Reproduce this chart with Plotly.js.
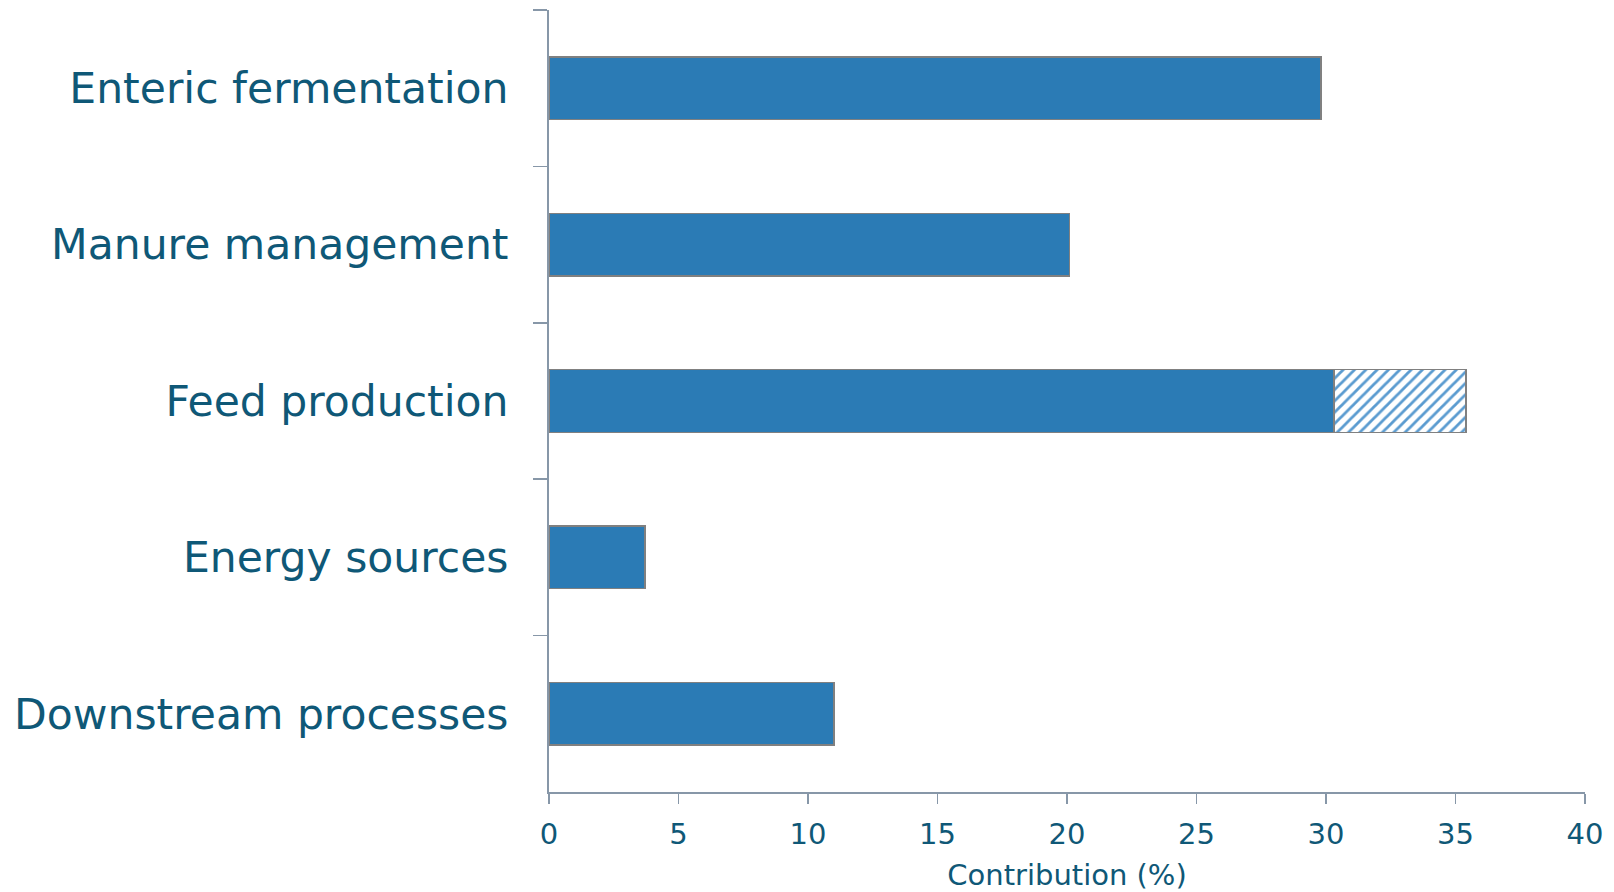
<!DOCTYPE html>
<html>
<head>
<meta charset="utf-8">
<script src="https://cdn.plot.ly/plotly-3.0.1.min.js"></script>
<style>html,body{margin:0;padding:0;background:#fff;}#chart{width:1614px;height:892px;}</style>
</head>
<body>
<div id="chart"></div>
<script>
const categories = ["Enteric fermentation", "Manure management", "Feed production", "Energy sources", "Downstream processes"];
const mainValues = [29.8, 20.1, 30.3, 3.7, 11.0];
const hatchedValues = [null, null, 5.1, null, null];
const xTickValues = [0, 5, 10, 15, 20, 25, 30, 35, 40];

const textColor = "#0f5877";
const axisColor = "#8797a8";
const barColor = "#2b7bb5";

const traces = [
  {
    type: "bar", orientation: "h",
    y: categories, x: mainValues,
    width: 0.4,
    marker: {color: barColor, line: {color: "#808080", width: 1.5}},
    hoverinfo: "x+y"
  },
  {
    type: "bar", orientation: "h",
    y: categories, x: hatchedValues,
    width: 0.4,
    marker: {
      color: "#ffffff",
      line: {color: "#808080", width: 1.5},
      pattern: {shape: "/", fgcolor: "#5a9bd0", bgcolor: "#ffffff", size: 8, solidity: 0.35}
    },
    hoverinfo: "x+y"
  }
];

const layout = {
  width: 1614, height: 892,
  barmode: "stack",
  showlegend: false,
  paper_bgcolor: "#ffffff",
  plot_bgcolor: "#ffffff",
  margin: {l: 549, r: 29, t: 10, b: 100, pad: 0},
  font: {family: "DejaVu Sans, Verdana, sans-serif", color: textColor},
  xaxis: {
    range: [0, 40],
    tickvals: xTickValues,
    ticktext: xTickValues.map(String),
    showgrid: false, zeroline: false,
    showline: true, linecolor: axisColor, linewidth: 2,
    ticks: "outside", ticklen: 10, tickwidth: 1.5, tickcolor: axisColor,
    ticklabelstandoff: 5,
    tickfont: {size: 29, color: textColor},
    title: {text: "Contribution (%)", font: {size: 29, color: textColor}, standoff: 18}
  },
  yaxis: {
    type: "category",
    categoryorder: "array",
    categoryarray: categories,
    autorange: "reversed",
    showgrid: false, zeroline: false,
    showline: true, linecolor: axisColor, linewidth: 2,
    ticks: "outside", tickson: "boundaries", ticklen: 14, tickwidth: 1.5, tickcolor: axisColor,
    ticklabelstandoff: 30,
    tickfont: {size: 42.5, color: textColor}
  }
};

Plotly.newPlot("chart", traces, layout, {displayModeBar: false, staticPlot: true});
</script>
</body>
</html>
